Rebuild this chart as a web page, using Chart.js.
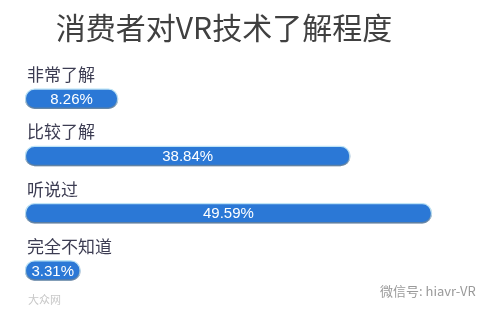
<!DOCTYPE html>
<html>
<head>
<meta charset="utf-8">
<script src="https://cdn.jsdelivr.net/npm/chart.js@4/dist/chart.umd.min.js"></script>
<style>
  html, body { margin: 0; padding: 0; background: #fff; }
  #wrap { width: 485px; height: 310px; position: relative; }
</style>
</head>
<body>
<div id="wrap"><canvas id="vrChart" width="485" height="310"></canvas></div>
<script>
// data
var categories = ["非常了解", "比较了解", "听说过", "完全不知道"];
var shares = [8.26, 38.84, 49.59, 3.31];
var valueLabels = ["8.26%", "38.84%", "49.59%", "3.31%"];

var titleText = "消费者对VR技术了解程度";
var cjk = "'Noto Sans CJK SC', 'Noto Sans', sans-serif";

// draws title, category names above bars, values inside bars, watermarks
var decor = {
  id: 'decor',
  beforeDatasetsDraw: function (chart) {
    var ctx = chart.ctx;
    ctx.save();
    ctx.shadowColor = 'rgba(10,40,90,0.55)';
    ctx.shadowOffsetY = 2;
    ctx.shadowBlur = 1.5;
  },
  afterDatasetsDraw: function (chart) {
    chart.ctx.restore();
  },
  afterDraw: function (chart) {
    var ctx = chart.ctx;
    var meta = chart.getDatasetMeta(0);
    ctx.save();

    ctx.fillStyle = '#404040';
    ctx.font = "400 30px " + cjk;
    ctx.textAlign = 'center';
    ctx.textBaseline = 'middle';
    ctx.fillText(titleText, 224, 28);

    meta.data.forEach(function (bar, i) {
      ctx.fillStyle = '#3c3c52';
      ctx.font = "17px " + cjk;
      ctx.textAlign = 'left';
      ctx.textBaseline = 'middle';
      ctx.fillText(categories[i], 27, bar.y - 24);

      ctx.fillStyle = '#ffffff';
      ctx.font = "15px 'Liberation Sans', sans-serif";
      ctx.textAlign = 'center';
      ctx.fillText(valueLabels[i], (bar.base + bar.x) / 2, bar.y + 1);
    });

    ctx.fillStyle = '#9a9a9a';
    ctx.font = "13px " + cjk;
    ctx.textAlign = 'left';
    ctx.fillText("微信号: hiavr-VR", 380, 291);
    ctx.fillStyle = '#c8c8c8';
    ctx.font = "11px " + cjk;
    ctx.fillText("大众网", 28, 300);
    ctx.restore();
  }
};

new Chart(document.getElementById('vrChart'), {
  type: 'bar',
  data: {
    labels: categories,
    datasets: [{
      data: shares,
      base: -4,
      backgroundColor: '#2b78d6',
      borderColor: '#bfe4f6',
      borderWidth: 1.5,
      borderRadius: 10,
      borderSkipped: false,
      barThickness: 20
    }]
  },
  options: {
    indexAxis: 'y',
    responsive: false,
    animation: false,
    layout: { padding: { top: 70, left: 25, right: 50, bottom: 11 } },
    scales: {
      x: { display: false, min: -4, max: 50 },
      y: { display: false }
    },
    plugins: {
      legend: { display: false },
      tooltip: { enabled: false }
    }
  },
  plugins: [decor]
});
</script>
</body>
</html>
